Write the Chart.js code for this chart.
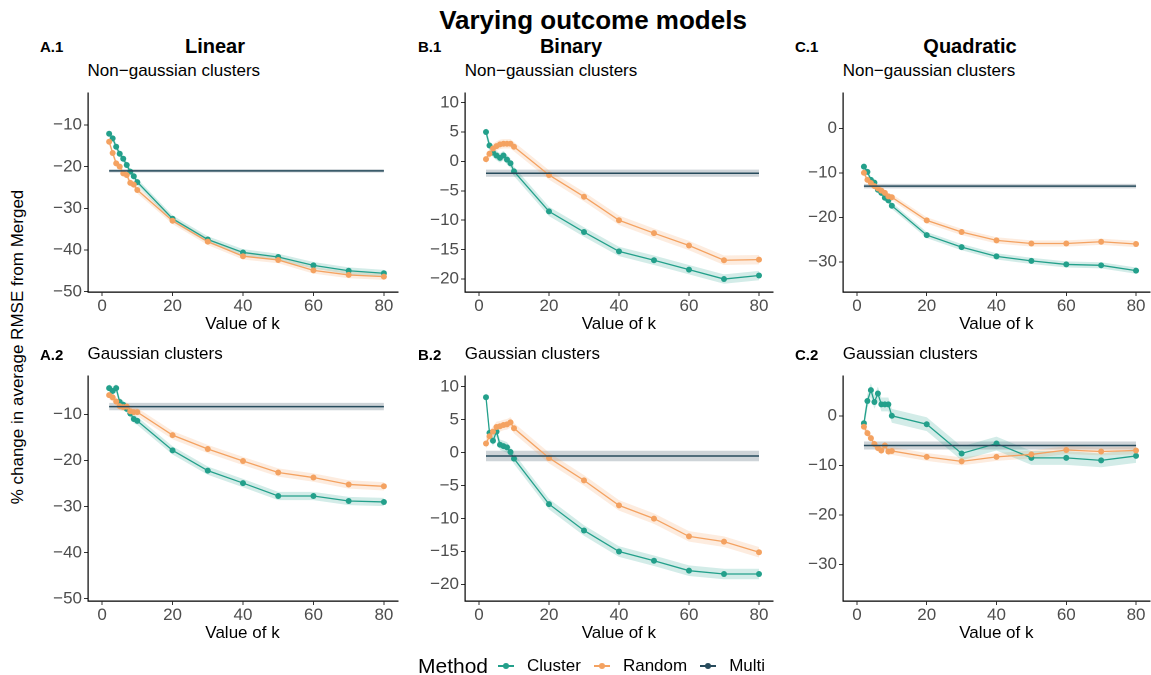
<!DOCTYPE html>
<html>
<head>
<meta charset="utf-8">
<script src="https://cdn.jsdelivr.net/npm/chart.js@4.4.0/dist/chart.umd.min.js"></script>
<style>
  body { margin: 0; background: #fff; }
  #wrap { position: relative; width: 1151px; height: 675px; font-family: "Liberation Sans", Arial, sans-serif; overflow: hidden; }
  .t { position: absolute; white-space: nowrap; color: #000; }
  .c { transform: translate(-50%, -50%); }
  .l { transform: translate(0, -50%); }
  canvas { position: absolute; }
  .sym { display: inline-block; position: relative; width: 16px; height: 10px; vertical-align: middle; margin-right: 13px; }
  .sym i { position: absolute; left: 0; right: 0; top: 4px; height: 1.5px; }
  .sym b { position: absolute; left: 5px; top: 2px; width: 6px; height: 6px; border-radius: 50%; }
</style>
</head>
<body>
<div id="wrap"></div>
<script>
// k values on the x axis
const kVals = [2, 3, 4, 5, 6, 7, 8, 9, 10, 20, 30, 40, 50, 60, 70, 80];
const xTicks = [0, 20, 40, 60, 80];

// A.1 Linear, non-gaussian
const linNonCluster = [-12.1, -13.2, -15.2, -16.9, -18.1, -19.6, -21.2, -22.3, -23.7, -32.5, -37.5, -40.6, -41.7, -43.7, -45.0, -45.6];
const linNonRandom  = [-14.0, -16.7, -19.2, -20.0, -21.6, -22.0, -23.9, -24.3, -25.6, -33.0, -38.0, -41.5, -42.4, -44.9, -46.0, -46.4];
const linNonMulti = -21;
// B.1 Binary, non-gaussian
const binNonCluster = [5.0, 2.7, 1.5, 1.0, 0.6, 1.0, 0.3, -0.3, -1.7, -8.5, -12.0, -15.3, -16.8, -18.4, -20.0, -19.4];
const binNonRandom  = [0.4, 1.3, 2.2, 2.6, 2.9, 3.0, 3.0, 3.0, 2.5, -2.3, -6.0, -10.0, -12.2, -14.3, -16.8, -16.7];
const binNonMulti = -2;
// C.1 Quadratic, non-gaussian
const quadNonCluster = [-8.6, -9.8, -11.6, -12.2, -13.8, -14.5, -15.6, -16.2, -17.4, -24.0, -26.7, -28.8, -29.8, -30.6, -30.8, -32.0];
const quadNonRandom  = [-10.0, -11.6, -12.3, -13.0, -13.5, -14.0, -14.5, -15.3, -15.5, -20.7, -23.3, -25.2, -25.9, -25.9, -25.5, -26.0];
const quadNonMulti = -13;
// A.2 Linear, gaussian
const linGauCluster = [-4.3, -4.9, -4.3, -7.3, -7.9, -8.8, -9.8, -11.0, -11.4, -17.8, -22.2, -24.9, -27.7, -27.7, -28.8, -29.0];
const linGauRandom  = [-5.8, -6.3, -7.2, -8.2, -8.4, -8.3, -9.3, -9.5, -9.5, -14.5, -17.5, -20.1, -22.6, -23.7, -25.2, -25.6];
const linGauMulti = -8.3;
// B.2 Binary, gaussian
const binGauCluster = [8.4, 3.0, 1.8, 3.2, 1.2, 1.0, 0.8, 0.1, -0.9, -7.8, -11.8, -15.0, -16.4, -17.9, -18.4, -18.4];
const binGauRandom  = [1.4, 2.5, 3.2, 3.9, 4.0, 4.2, 4.3, 4.6, 3.7, -0.8, -4.2, -8.0, -10.0, -12.7, -13.5, -15.1];
const binGauMulti = -0.5;
// C.2 Quadratic, gaussian
const quadGauCluster = [-1.5, 3.0, 5.2, 2.8, 4.5, 2.3, 2.3, 2.3, 0.0, -1.7, -7.6, -5.6, -8.5, -8.5, -9.0, -8.1];
const quadGauRandom  = [-2.2, -3.5, -4.5, -5.7, -6.5, -7.0, -6.0, -7.2, -7.1, -8.3, -9.2, -8.3, -7.8, -6.9, -7.2, -7.0];
const quadGauMulti = -6;

// band half widths (cluster, random, multi) per panel
const seA1 = [0.8, 0.8, 0.4];
const seB1 = [0.8, 0.8, 0.6];
const seC1 = [0.7, 0.7, 0.5];
const seA2 = [0.9, 0.9, 0.8];
const seB2 = [0.8, 0.8, 0.8];
const seC2 = [1.4, 0.8, 0.8];

const yTicksLin = [-50, -40, -30, -20, -10];
const yTicksBin = [-20, -15, -10, -5, 0, 5, 10];
const yTicksQuad = [-30, -20, -10, 0];

const colCluster = '#23a08b';
const colRandom = '#f4a261';
const colMulti = '#274b5c';

const panels = [
  { cluster: linNonCluster, random: linNonRandom, multi: linNonMulti, se: seA1, ticks: yTicksLin, ymin: -50.1, ymax: -2.35, col: 0, row: 0 },
  { cluster: binNonCluster, random: binNonRandom, multi: binNonMulti, se: seB1, ticks: yTicksBin, ymin: -22.2, ymax: 11.6, col: 1, row: 0 },
  { cluster: quadNonCluster, random: quadNonRandom, multi: quadNonMulti, se: seC1, ticks: yTicksQuad, ymin: -36.8, ymax: 7.9, col: 2, row: 0 },
  { cluster: linGauCluster, random: linGauRandom, multi: linGauMulti, se: seA2, ticks: yTicksLin, ymin: -50.5, ymax: -1.7, col: 0, row: 1 },
  { cluster: binGauCluster, random: binGauRandom, multi: binGauMulti, se: seB2, ticks: yTicksBin, ymin: -22.5, ymax: 11.6, col: 1, row: 1 },
  { cluster: quadGauCluster, random: quadGauRandom, multi: quadGauMulti, se: seC2, ticks: yTicksQuad, ymin: -37.4, ymax: 8.0, col: 2, row: 1 }
];

// plot area geometry
const plotLeft = [87.6, 464.8, 842.7];
const plotRight = [397.4, 773, 1150];
const plotTop = [87, 370];
const plotBottom = [292.3, 600.7];
const yAxisW = 45, xAxisH = 28, padTop = 6, padRight = 6;

const wrap = document.getElementById('wrap');

function addText(txt, x, y, size, opts) {
  const d = document.createElement('div');
  d.className = 't ' + ((opts && opts.left) ? 'l' : 'c');
  d.textContent = txt;
  d.style.left = x + 'px';
  d.style.top = y + 'px';
  d.style.fontSize = size + 'px';
  if (opts && opts.bold) d.style.fontWeight = 'bold';
  if (opts && opts.rotate) d.style.transform = 'translate(-50%, -50%) rotate(-90deg)';
  wrap.appendChild(d);
  return d;
}

const minus = v => String(v).replace('-', '\u2212');

function pts(arr) {
  return kVals.map((k, i) => ({ x: k, y: arr[i] }));
}
function band(arr, d) {
  return kVals.map((k, i) => ({ x: k, y: arr[i] + d }));
}
function flat(v) {
  return [{ x: kVals[0], y: v }, { x: kVals[kVals.length - 1], y: v }];
}
function hex2rgba(h, a) {
  const n = parseInt(h.slice(1), 16);
  return `rgba(${n >> 16}, ${(n >> 8) & 255}, ${n & 255}, ${a})`;
}

function drawPanel(p) {
  const left = plotLeft[p.col] - yAxisW;
  const top = plotTop[p.row] - padTop;
  const w = Math.round(plotRight[p.col] - plotLeft[p.col] + yAxisW + padRight);
  const h = Math.round(plotBottom[p.row] - plotTop[p.row] + padTop + xAxisH);
  const cv = document.createElement('canvas');
  cv.width = w; cv.height = h;
  cv.style.left = left + 'px';
  cv.style.top = top + 'px';
  cv.style.width = w + 'px';
  cv.style.height = h + 'px';
  wrap.appendChild(cv);

  const line = (data, color, order) => ({
    data, borderColor: color, backgroundColor: color, borderWidth: 1.3,
    pointRadius: 3, pointHoverRadius: 3, pointBorderWidth: 0, fill: false, order, tension: 0
  });
  const ribbonLo = (data, order) => ({
    data, borderWidth: 0, pointRadius: 0, fill: false, order, borderColor: 'rgba(0,0,0,0)'
  });
  const ribbonHi = (data, color, order) => ({
    data, borderWidth: 0, pointRadius: 0, fill: '-1', backgroundColor: color, order, borderColor: 'rgba(0,0,0,0)'
  });

  const datasets = [
    ribbonLo(band(p.cluster, -p.se[0]), 10),
    ribbonHi(band(p.cluster, p.se[0]), hex2rgba(colCluster, 0.2), 10),
    ribbonLo(band(p.random, -p.se[1]), 10),
    ribbonHi(band(p.random, p.se[1]), hex2rgba(colRandom, 0.2), 10),
    ribbonLo(flat(p.multi - p.se[2]), 10),
    ribbonHi(flat(p.multi + p.se[2]), 'rgba(60, 85, 100, 0.25)', 10),
    line(pts(p.cluster), colCluster, 3),
    line(pts(p.random), colRandom, 2),
    Object.assign(line(flat(p.multi), colMulti, 1), { pointRadius: 0, borderWidth: 1.5 })
  ];

  const tickFont = { family: '"Liberation Sans", Arial, sans-serif', size: 17 };
  new Chart(cv, {
    type: 'line',
    data: { datasets },
    options: {
      responsive: false,
      animation: false,
      devicePixelRatio: 2,
      layout: { padding: { top: padTop, right: padRight, left: 0, bottom: 0 } },
      plugins: { legend: { display: false }, tooltip: { enabled: false } },
      scales: {
        x: {
          type: 'linear', min: -4, max: 84,
          afterBuildTicks: ax => { ax.ticks = xTicks.map(v => ({ value: v })); },
          afterFit: ax => { ax.height = xAxisH; },
          ticks: { color: '#4d4d4d', font: tickFont, padding: 0, maxRotation: 0, callback: v => minus(v) },
          grid: { drawOnChartArea: false, drawTicks: true, tickLength: 4, color: '#333' },
          border: { display: true, color: '#000', width: 1.2 }
        },
        y: {
          type: 'linear', min: p.ymin, max: p.ymax,
          afterBuildTicks: ax => { ax.ticks = p.ticks.map(v => ({ value: v })); },
          afterFit: ax => { ax.width = yAxisW; },
          ticks: { color: '#4d4d4d', font: tickFont, padding: 2, callback: v => minus(v) },
          grid: { drawOnChartArea: false, drawTicks: true, tickLength: 4, color: '#333' },
          border: { display: true, color: '#000', width: 1.2 }
        }
      }
    }
  });

  const cx = (plotLeft[p.col] + plotRight[p.col]) / 2;
  addText('Value of k', cx, plotBottom[p.row] + 32, 17);
}

panels.forEach(drawPanel);

// titles and labels
addText('Varying outcome models', 593, 20, 26, { bold: true });
const colTitles = ['Linear', 'Binary', 'Quadratic'];
const colTitleX = [215, 571, 970];
const letters = ['A', 'B', 'C'];
const letterX = [40, 418, 795];
colTitles.forEach((t, i) => addText(t, colTitleX[i], 46, 20, { bold: true }));
[0, 1].forEach(r => {
  const y = r === 0 ? 46 : 354;
  const sy = r === 0 ? 71 : 354;
  const sub = r === 0 ? 'Non\u2212gaussian clusters' : 'Gaussian clusters';
  letters.forEach((L, i) => {
    addText(L + '.' + (r + 1), letterX[i], y, 15, { bold: true, left: true });
    addText(sub, plotLeft[i], sy, 17, { left: true });
  });
});
addText('% change in average RMSE from Merged', 18, 347, 17, { rotate: true });

// legend
const leg = document.createElement('div');
leg.className = 't l';
leg.style.left = '418px';
leg.style.top = '666px';
leg.style.fontSize = '17px';
leg.innerHTML = '<span style="font-size:21px;margin-right:10px;vertical-align:middle">Method</span>' +
  [['Cluster', colCluster], ['Random', colRandom], ['Multi', colMulti]].map(([n, c]) =>
    `<span class="sym"><i style="background:${c}"></i><b style="background:${c}"></b></span><span style="vertical-align:middle;margin-right:13px">${n}</span>`
  ).join('');
wrap.appendChild(leg);
</script>
</body>
</html>
